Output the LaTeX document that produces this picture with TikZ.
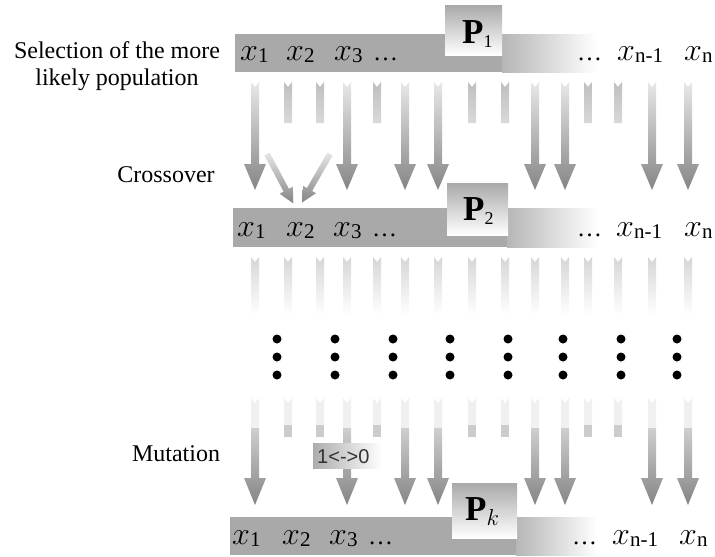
\documentclass[tikz,border=0pt]{standalone}
\usepackage{fix-cm}
\usepackage{fontspec}
\setmainfont{Liberation Serif}
\setsansfont{Liberation Sans}
\usepackage{tikz}
\definecolor{bargray}{HTML}{A9A9A9}
\definecolor{darkarrow}{HTML}{858585}
\definecolor{lightarrow}{HTML}{E8E8E8}
\newcommand{\xsub}[1]{$x$\raisebox{-2pt}{\fontsize{21}{21}\selectfont #1}}
\newcommand{\psub}[1]{\textbf{P}\raisebox{-4pt}{\fontsize{18}{18}\selectfont #1}}

\begin{document}
\begin{tikzpicture}[x=1pt,y=-1pt]
    \tikzstyle{bar_label}=[anchor=base west,inner sep=0pt,font=\fontsize{32}{32}\selectfont]
    \tikzstyle{dots_label}=[anchor=base west,inner sep=0pt,font=\fontsize{25}{25}\selectfont]
    \tikzstyle{step_label}=[align=center,inner sep=0pt,font=\fontsize{24}{27}\selectfont]
    \tikzstyle{p_label}=[anchor=base west,inner sep=0pt,font=\fontsize{35}{35}\selectfont]
    \tikzstyle{long_arrow}=[top color=lightarrow,bottom color=darkarrow]
    \useasboundingbox (0,0) rectangle (715,557);

    % step names
    \node[step_label] (select)  at (117,66)  {Selection of the more\\likely population};
    \node[step_label] (cross)   at (166,175) {Crossover};
    \node[step_label] (mutate)  at (176,454) {Mutation};

    % population P1
    \fill[bargray] (235,34) rectangle (503,72);
    \shade[left color=bargray!85,middle color=bargray!60,right color=white] (502,34) rectangle (597,72);
    \shade[top color=bargray,bottom color=white] (445,5) rectangle (502,55);
    \node[p_label]   (p1)   at (462,43) {\psub{1}};
    \node[bar_label] (a_x1) at (240,60) {\xsub{1}};
    \node[bar_label] (a_x2) at (286,60) {\xsub{2}};
    \node[bar_label] (a_x3) at (334,60) {\xsub{3}};
    \node[dots_label] (a_d1) at (373,60) {…};
    \node[dots_label] (a_d2) at (577,60) {…};
    \node[bar_label] (a_xm) at (617,60) {\xsub{n-1}};
    \node[bar_label] (a_xn) at (684,60) {\xsub{n}};

    % selection
    \foreach \c in {255,347,405,438,535,565,652,688}
        \shade[long_arrow] (\c-4,82) -- (\c,87) -- (\c+4,82) -- (\c+4,164) -- (\c+11,164)
            -- (\c,190) -- (\c-11,164) -- (\c-4,164) -- cycle;
    \foreach \c in {288,320,377,472,505,588,618}
        \shade[top color=gray!50,bottom color=gray!30] (\c-4,82) -- (\c,87) -- (\c+4,82)
            -- (\c+4,123) -- (\c-4,123) -- cycle;

    % crossover
    \begin{scope}[shift={(267,154)},rotate=28]
        \shade[top color=gray!20,bottom color=darkarrow] (-3,0) -- (3,0) -- (3,41) -- (7.5,41)
            -- (0,56) -- (-7.5,41) -- (-3,41) -- cycle;
    \end{scope}
    \begin{scope}[shift={(330,154)},rotate=-30]
        \shade[top color=gray!20,bottom color=darkarrow] (-3,0) -- (3,0) -- (3,41) -- (7.5,41)
            -- (0,56) -- (-7.5,41) -- (-3,41) -- cycle;
    \end{scope}

    % population P2
    \fill[bargray] (233,208) rectangle (508,247);
    \shade[left color=bargray!85,middle color=bargray!60,right color=white] (507,208) rectangle (597,247);
    \shade[top color=bargray,bottom color=white] (447,183) rectangle (508,235);
    \node[p_label]   (p2)   at (463,220) {\psub{2}};
    \node[bar_label] (b_x1) at (237,236) {\xsub{1}};
    \node[bar_label] (b_x2) at (286,236) {\xsub{2}};
    \node[bar_label] (b_x3) at (333,236) {\xsub{3}};
    \node[dots_label] (b_d1) at (372,236) {…};
    \node[dots_label] (b_d2) at (577,236) {…};
    \node[bar_label] (b_xm) at (616,236) {\xsub{n-1}};
    \node[bar_label] (b_xn) at (684,236) {\xsub{n}};

    % fading columns
    \foreach \c in {255,288,320,347,377,405,438,472,505,535,565,588,618,652,688}
        \shade[top color=gray!32,middle color=gray!8,bottom color=white] (\c-4,257) -- (\c,262)
            -- (\c+4,257) -- (\c+4,315) -- (\c-4,315) -- cycle;

    % generations skipped
    \foreach \c in {277,335,393,450,508,563,621,677}
        \foreach \r in {339,357,375}
            \fill (\c,\r) circle (4.5);

    % mutation
    \foreach \c in {255,347,405,438,535,565,652,688} {
        \fill[gray!12] (\c-4,398) -- (\c,403) -- (\c+4,398) -- (\c+4,428) -- (\c-4,428) -- cycle;
        \shade[top color=gray!38,bottom color=darkarrow] (\c-4,428) -- (\c+4,428) -- (\c+4,478)
            -- (\c+11,478) -- (\c,505) -- (\c-11,478) -- (\c-4,478) -- cycle;
    }
    \foreach \c in {288,320,377,472,505,588,618} {
        \fill[gray!12] (\c-4,398) -- (\c,403) -- (\c+4,398) -- (\c+4,425) -- (\c-4,425) -- cycle;
        \fill[gray!40] (\c-4,425) rectangle (\c+4,437);
    }
    \shade[left color=gray!65,right color=white] (313,443) rectangle (382,468);
    \node[anchor=base west,inner sep=0pt,font=\sffamily\fontsize{20}{20}\selectfont,text=black!80]
        (flip) at (317,463) {1<->0};

    % population Pk
    \fill[bargray] (230,517) rectangle (517,555);
    \shade[left color=bargray!85,middle color=bargray!60,right color=white] (516,517) rectangle (597,555);
    \shade[top color=bargray,bottom color=white] (452,483) rectangle (517,538);
    \node[p_label]   (pk)   at (465,520) {\textbf{P}\raisebox{-5pt}{\fontsize{23}{23}\selectfont$k$}};
    \node[bar_label] (c_x1) at (232,544) {\xsub{1}};
    \node[bar_label] (c_x2) at (282,544) {\xsub{2}};
    \node[bar_label] (c_x3) at (329,544) {\xsub{3}};
    \node[dots_label] (c_d1) at (368,544) {…};
    \node[dots_label] (c_d2) at (572,544) {…};
    \node[bar_label] (c_xm) at (612,544) {\xsub{n-1}};
    \node[bar_label] (c_xn) at (679,544) {\xsub{n}};

\end{tikzpicture}
\end{document}
